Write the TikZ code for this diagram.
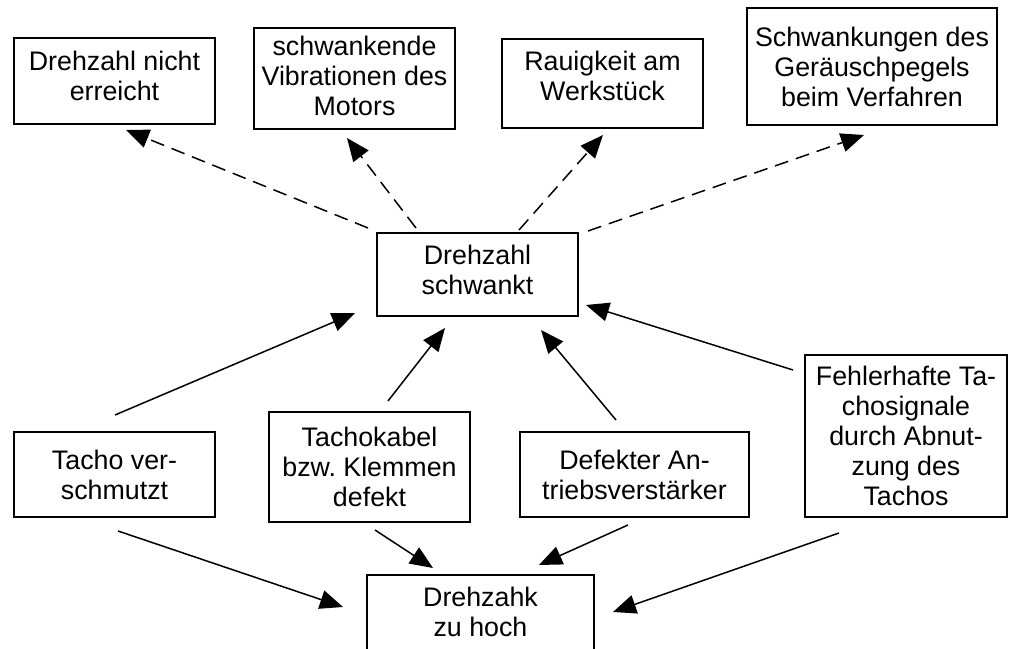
\documentclass[tikz,border=0pt]{standalone}
\usepackage{fontspec}
\setmainfont{Liberation Sans}
\usetikzlibrary{arrows.meta}
\frenchspacing
\begin{document}
\begin{tikzpicture}[x=1pt,y=1pt,
  box/.style={draw=black,line width=1.5pt,inner sep=0pt,align=center,
    font=\fontsize{26.8}{30}\selectfont},
  lbl/.style={inner sep=0pt,align=center,label distance=0pt,
    font=\fontsize{26.8}{30}\selectfont},
  conn/.style={line width=1.5pt,-{Triangle[length=23pt,width=19pt]}},
  dconn/.style={conn,dash pattern=on 14pt off 8pt}]
\useasboundingbox (0,0) rectangle (1012,648);
\node[box,minimum width=201pt,minimum height=86pt,
  label={[lbl,yshift=5pt]center:{Drehzahl nicht\\erreicht}}] (b1) at (114.5,567) {};
\node[box,minimum width=201pt,minimum height=101pt,
  label={[lbl,yshift=2.5pt]center:{schwankende\\Vibrationen des\\Motors}}] (b2) at (354.5,569.5) {};
\node[box,minimum width=201pt,minimum height=89pt,
  label={[lbl,yshift=8pt]center:{Rauigkeit am\\Werkstück}}] (b3) at (602.5,564.5) {};
\node[box,minimum width=250pt,minimum height=117pt] (b4) at (872,581.5) {Schwankungen des\\Geräuschpegels\\beim Verfahren};
\node[box,minimum width=201pt,minimum height=83pt,
  label={[lbl,yshift=4.5pt]center:{Drehzahl\\schwankt}}] (c) at (477.5,373.5) {};
\node[box,minimum width=201pt,minimum height=85pt] (t1) at (114.5,173.5) {Tacho ver-\\schmutzt};
\node[box,minimum width=201pt,minimum height=110pt] (t2) at (369.5,181) {Tachokabel\\bzw. Klemmen\\defekt};
\node[box,minimum width=229pt,minimum height=85pt] (t3) at (634.5,173.5) {Defekter An-\\triebsverstärker};
\node[box,minimum width=202pt,minimum height=162pt] (t4) at (906,212) {Fehlerhafte Ta-\\chosignale\\durch Abnut-\\zung des\\Tachos};
\node[box,minimum width=227pt,minimum height=83pt,
  label={[lbl,yshift=5pt]center:{Drehzahk\\zu hoch}}] (d) at (480.5,31.5) {};
% dashed effects
\draw[dconn] ([shift={(-109.5,46.5)}]c.center) -- ([shift={(11.5,-49)}]b1.center);
\draw[dconn] ([shift={(-61.5,46.5)}]c.center) -- ([shift={(-7.5,-59.5)}]b2.center);
\draw[dconn] ([shift={(41.5,44.5)}]c.center) -- ([shift={(0.5,-51.5)}]b3.center);
\draw[dconn] ([shift={(110.5,43.5)}]c.center) -- ([shift={(-8,-68.5)}]b4.center);
% causes to c
\draw[conn] ([shift={(0.5,59.5)}]t1.center) -- ([shift={(-122.5,-38.5)}]c.center);
\draw[conn] ([shift={(18.5,66)}]t2.center) -- ([shift={(-32.5,-53.5)}]c.center);
\draw[conn] ([shift={(-18.5,54.5)}]t3.center) -- ([shift={(63.5,-55.5)}]c.center);
\draw[conn] ([shift={(-113,66)}]t4.center) -- ([shift={(108.5,-30.5)}]c.center);
% causes to d
\draw[conn] ([shift={(3.5,-56.5)}]t1.center) -- ([shift={(-137.5,9.5)}]d.center);
\draw[conn] ([shift={(5.5,-63)}]t2.center) -- ([shift={(-47.5,48.5)}]d.center);
\draw[conn] ([shift={(-6.5,-50.5)}]t3.center) -- ([shift={(58.5,51.5)}]d.center);
\draw[conn] ([shift={(-67,-97)}]t4.center) -- ([shift={(132.5,4.5)}]d.center);
\end{tikzpicture}
\end{document}
